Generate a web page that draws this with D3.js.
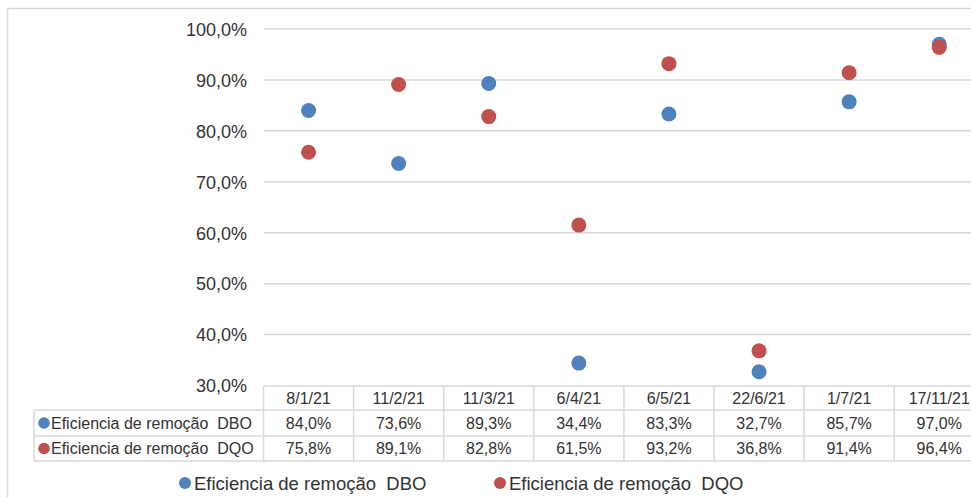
<!DOCTYPE html>
<html><head><meta charset="utf-8">
<script src="https://cdn.jsdelivr.net/npm/d3@7"></script>
<style>
html,body{margin:0;padding:0;background:#fff;}
svg text{font-family:"Liberation Sans",Arial,sans-serif;fill:#333;white-space:pre;}
</style></head>
<body><svg id="c" width="971" height="497"></svg>
<script>
const categories = ["8/1/21","11/2/21","11/3/21","6/4/21","6/5/21","22/6/21","1/7/21","17/11/21"];
const seriesNames = ["Eficiencia de remoção  DBO","Eficiencia de remoção  DQO"];
const dbo = [84.0,73.6,89.3,34.4,83.3,32.7,85.7,97.0];
const dqo = [75.8,89.1,82.8,61.5,93.2,36.8,91.4,96.4];
const yTicks = [30,40,50,60,70,80,90,100];
const colors = ["#4F81BD","#C0504D"];

const svg = d3.select("#c");
const fmt = v => v.toFixed(1).replace(".", ",") + "%";
const series = [dbo, dqo];

// chart border
svg.append("rect").attr("x",7.5).attr("y",8.5).attr("width",1000).attr("height",600)
  .attr("fill","none").attr("stroke","#d9d9d9").attr("stroke-width",1.5);

const x = d3.scaleBand().domain(categories).range([263.5, 984.3]);
const y = d3.scaleLinear().domain([30,100]).range([385.5, 29]);

// gridlines
svg.append("g").selectAll("line").data(yTicks.filter(t=>t>30)).join("line")
  .attr("x1",263.5).attr("x2",990).attr("y1",d=>y(d)).attr("y2",d=>y(d))
  .attr("stroke","#d9d9d9").attr("stroke-width",1.5);

// y axis labels
const yAxis = d3.axisLeft(y).tickValues(yTicks).tickFormat(fmt).tickSize(0).tickPadding(0);
const ga = svg.append("g").attr("transform","translate(247,0)").call(yAxis);
ga.select(".domain").remove();
ga.selectAll("text").attr("font-size","18px").attr("fill","#333")
  .style("font-family","'Liberation Sans',Arial,sans-serif").attr("dy","0.35em");

// table
const rowTop = [386, 410, 436, 461];
const tbl = svg.append("g");
const left = 263.5, right = 984.3, labelLeft = 34;
// horizontal lines
tbl.append("line").attr("x1",left).attr("x2",right).attr("y1",rowTop[0]).attr("y2",rowTop[0]);
[1,2,3].forEach(i=>{
  tbl.append("line").attr("x1",labelLeft).attr("x2",right).attr("y1",rowTop[i]).attr("y2",rowTop[i]);
});
// vertical lines
tbl.append("line").attr("x1",labelLeft).attr("x2",labelLeft).attr("y1",rowTop[1]).attr("y2",rowTop[3]);
categories.forEach(c=>{
  tbl.append("line").attr("x1",x(c)).attr("x2",x(c)).attr("y1",rowTop[0]).attr("y2",rowTop[3]);
});
tbl.append("line").attr("x1",right).attr("x2",right).attr("y1",rowTop[0]).attr("y2",rowTop[3]);
tbl.selectAll("line").attr("stroke","#d9d9d9").attr("stroke-width",1.5);

// header text
tbl.selectAll("text.h").data(categories).join("text").attr("class","h")
  .attr("x",d=>x(d)+x.bandwidth()/2).attr("y",(rowTop[0]+rowTop[1])/2).attr("dy","0.36em")
  .attr("text-anchor","middle").attr("font-size","16px").text(d=>d);

series.forEach((s,si)=>{
  const cy = (rowTop[si+1]+rowTop[si+2])/2;
  tbl.append("circle").attr("cx",44).attr("cy",cy).attr("r",5.8).attr("fill",colors[si]);
  tbl.append("text").attr("x",51).attr("y",cy).attr("dy","0.36em").attr("font-size","16px").text(seriesNames[si]);
  tbl.selectAll("text.v"+si).data(s).join("text").attr("class","v"+si)
    .attr("x",(d,i)=>x(categories[i])+x.bandwidth()/2).attr("y",cy).attr("dy","0.36em")
    .attr("text-anchor","middle").attr("font-size","16px").text(d=>fmt(d));
});

// points
series.forEach((s,si)=>{
  svg.append("g").selectAll("circle").data(s).join("circle")
    .attr("cx",(d,i)=>x(categories[i])+x.bandwidth()/2).attr("cy",d=>y(d))
    .attr("r",7.5).attr("fill",colors[si]);
});

// legend
const legendX = [185, 500];
series.forEach((s,si)=>{
  svg.append("circle").attr("cx",legendX[si]).attr("cy",483).attr("r",6).attr("fill",colors[si]);
  svg.append("text").attr("x",legendX[si]+9).attr("y",483).attr("dy","0.36em")
    .attr("font-size","18.5px").text(seriesNames[si]);
});
</script></body></html>
